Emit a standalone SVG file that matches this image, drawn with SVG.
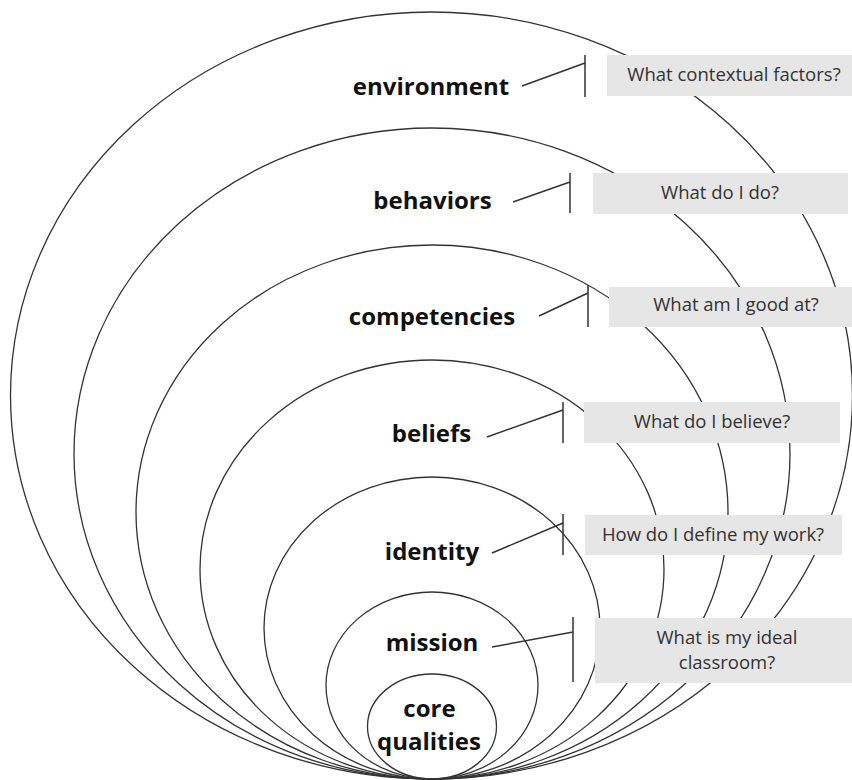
<svg xmlns="http://www.w3.org/2000/svg" width="852" height="780" viewBox="0 0 852 780">
<style>
.ring{fill:none;stroke:#333;stroke-width:1.3}
.lbl{font-family:"Open Sans","Liberation Sans",sans-serif;font-weight:bold;font-size:24px;fill:#111;text-anchor:middle}
.box{fill:#e6e6e6}
.q{font-family:"Open Sans","Liberation Sans",sans-serif;font-size:18.5px;fill:#333;text-anchor:middle}
.con{fill:none;stroke:#333;stroke-width:1.5}
</style>
<rect width="852" height="780" fill="#fff"/>
<g id="rings">
<ellipse id="ring-environment" class="ring" cx="431.5" cy="395.5" rx="421" ry="383.5"/>
<ellipse id="ring-behaviors" class="ring" cx="432" cy="453.5" rx="358" ry="325.5"/>
<ellipse id="ring-competencies" class="ring" cx="432" cy="512" rx="296" ry="267"/>
<ellipse id="ring-beliefs" class="ring" cx="432" cy="569.5" rx="232" ry="209.5"/>
<ellipse id="ring-identity" class="ring" cx="432" cy="628" rx="168" ry="151"/>
<ellipse id="ring-mission" class="ring" cx="432" cy="685.5" rx="106" ry="93.5"/>
<ellipse id="ring-core" class="ring" cx="432" cy="726.5" rx="64.5" ry="52.5"/>
</g>
<g id="labels">
<text class="lbl" x="431" y="95">environment</text>
<text class="lbl" x="432.5" y="209">behaviors</text>
<text class="lbl" x="432" y="325">competencies</text>
<text class="lbl" x="431.5" y="442">beliefs</text>
<text class="lbl" x="432" y="560">identity</text>
<text class="lbl" x="432" y="651">mission</text>
<text class="lbl" x="429.5" y="717">core</text>
<text class="lbl" x="429" y="750">qualities</text>
</g>
<g id="connectors">
<path class="con" d="M522 86 L585 63 M585 55 V97"/>
<path class="con" d="M513 202 L570 182 M570 173 V213"/>
<path class="con" d="M539 316 L588 293 M588 285 V327"/>
<path class="con" d="M487 437 L563 410 M563 402 V443"/>
<path class="con" d="M492 553 L563 523 M563 514 V555"/>
<path class="con" d="M492 647 L573 632 M573 617 V682"/>
</g>
<g id="q-environment"><rect class="box" x="607" y="55" width="245" height="41"/><text class="q" x="734" y="81">What contextual factors?</text></g>
<g id="q-behaviors"><rect class="box" x="593" y="173" width="255" height="41"/><text class="q" x="720" y="199">What do I do?</text></g>
<g id="q-competencies"><rect class="box" x="609" y="287" width="243" height="40"/><text class="q" x="736" y="311">What am I good at?</text></g>
<g id="q-beliefs"><rect class="box" x="584" y="402" width="256" height="41"/><text class="q" x="712" y="428">What do I believe?</text></g>
<g id="q-identity"><rect class="box" x="585" y="515" width="257" height="40"/><text class="q" x="713" y="541">How do I define my work?</text></g>
<g id="q-mission"><rect class="box" x="595" y="618" width="257" height="65"/><text class="q" x="727" y="644">What is my ideal</text><text class="q" x="727" y="669">classroom?</text></g>
</svg>
